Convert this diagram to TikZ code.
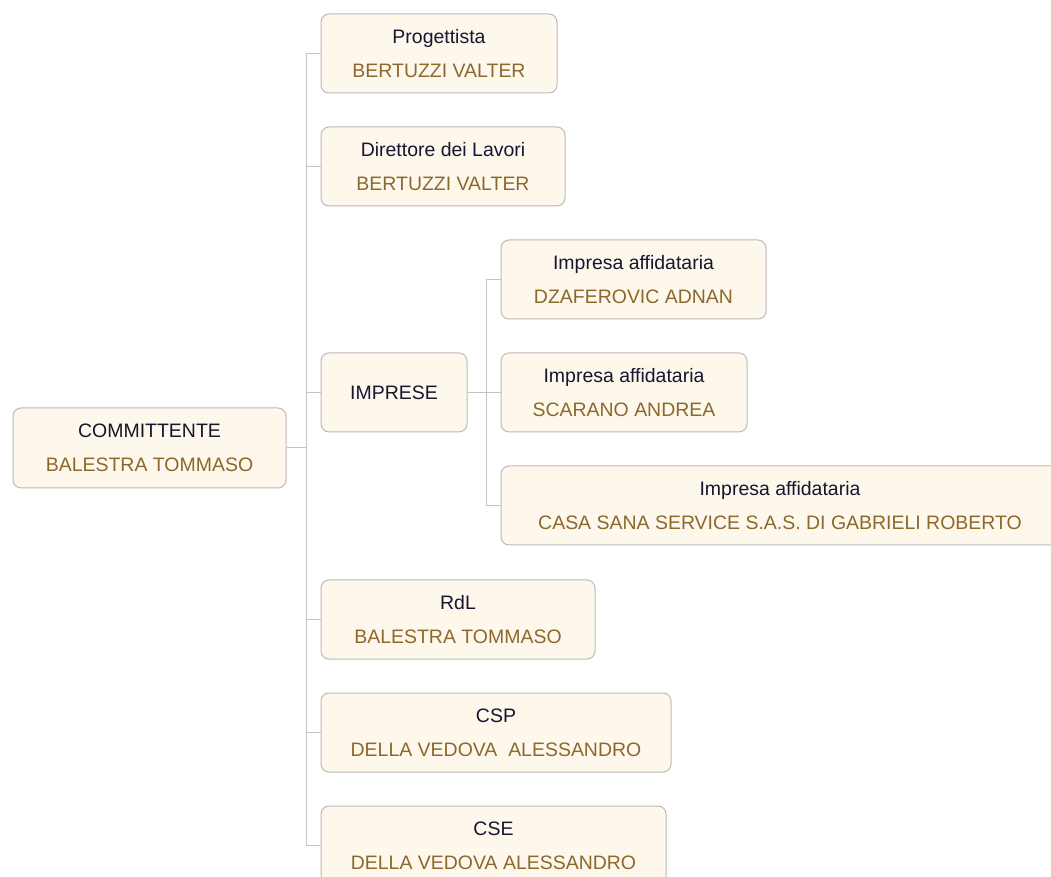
\documentclass[tikz,border=0pt]{standalone}
\usepackage{fontspec}
\setmainfont{Liberation Sans}
\usetikzlibrary{positioning}
\definecolor{edge}{RGB}{196,196,196}
\definecolor{cardFill}{RGB}{254,248,236}
\definecolor{cardLine}{RGB}{186,186,186}
\definecolor{role}{RGB}{22,22,48}
\definecolor{who}{RGB}{140,104,44}
\newcommand{\duty}[2]{\textcolor{role}{#1}\\\textcolor{who}{#2}}

\begin{document}
\begin{tikzpicture}[
  x=0.75pt, y=-0.75pt,
  font=\fontsize{14.6}{25.5}\selectfont,
  card/.style={rounded corners=6pt, draw=cardLine, line width=0.75pt, fill=cardFill, align=center, inner sep=0pt, minimum height=79*0.75pt, minimum width=#1*0.75pt},
  link/.style={draw=edge, line width=0.75pt},
]
\useasboundingbox (0,0) rectangle (1051,877);
\clip (0,0) rectangle (1051,877);

% ---- root ----
\node[card=273, minimum height=80*0.75pt] (root) at (149.5,448) {\duty{COMMITTENTE}{BALESTRA TOMMASO}};

% ---- first level ----
\node[card=236] (prog) at (439,53.5)  {\duty{Progettista}{BERTUZZI VALTER}};
\node[card=244] (dl)   at (443,166.5) {\duty{Direttore dei Lavori}{BERTUZZI VALTER}};
\node[card=146] (imp)  at (394,392.5) {\textcolor{role}{IMPRESE}};
\node[card=274] (rdl)  at (458,619.5) {\duty{RdL}{BALESTRA TOMMASO}};
\node[card=350] (csp)  at (496,732.5) {\duty{CSP}{DELLA VEDOVA\ \ ALESSANDRO}};
\node[card=345] (cse)  at (493.5,845.5) {\duty{CSE}{DELLA VEDOVA ALESSANDRO}};

% ---- companies ----
\node[card=265] (aff1) at (633.5,279.5) {\duty{Impresa affidataria}{DZAFEROVIC ADNAN}};
\node[card=246] (aff2) at (624,392.5)   {\duty{Impresa affidataria}{SCARANO ANDREA}};
\node[card=558] (aff3) at (780,505.5)   {\duty{Impresa affidataria}{CASA SANA SERVICE S.A.S. DI GABRIELI ROBERTO}};

% ---- connectors ----
\coordinate (fork) at (306,448);
\coordinate (subfork) at (486,392.5);
\draw[link] (root.east) -- (fork);
\foreach \c in {prog,dl,imp,rdl,csp,cse}
  \draw[link] (fork) |- (\c.west);
\draw[link] (imp.east) -- (subfork);
\foreach \c in {aff1,aff2,aff3}
  \draw[link] (subfork) |- (\c.west);

\end{tikzpicture}
\end{document}
